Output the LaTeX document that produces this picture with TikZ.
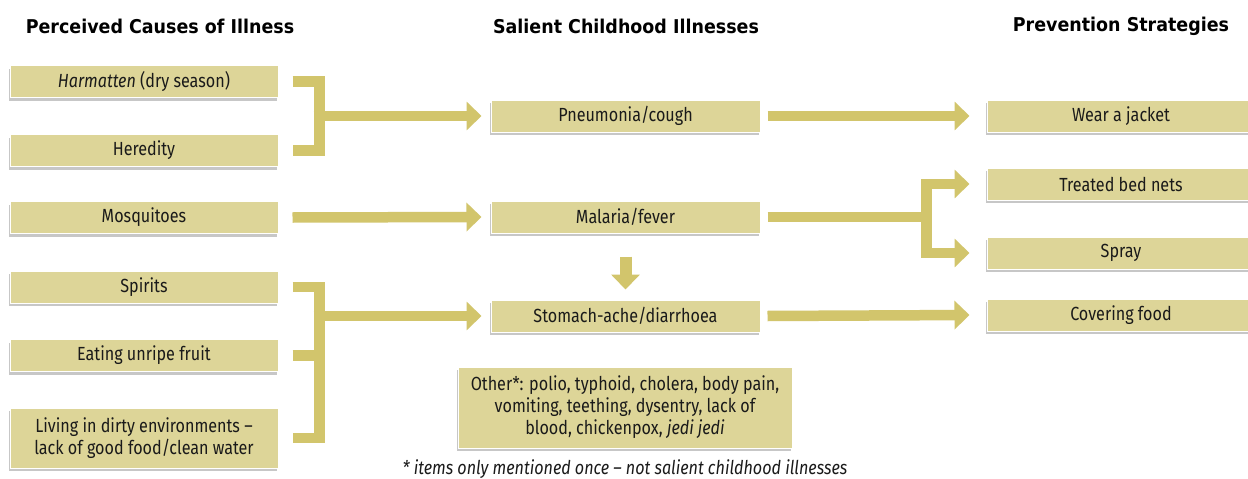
\documentclass[tikz,border=0pt]{standalone}
\usepackage{fontspec}
\setmainfont{Fira Sans}[FakeStretch=0.85]
\newfontfamily\hdfont{DejaVu Sans}[FakeStretch=0.92]
\usetikzlibrary{arrows.meta,shadows,calc}
\definecolor{boxfill}{HTML}{DDD598}
\definecolor{arrowc}{HTML}{D2C56C}
\definecolor{txt}{HTML}{1A1A1A}
\tikzset{
  box/.style={draw=white, line width=1pt, fill=boxfill, inner sep=0pt,
    minimum height=32pt, text=txt, font=\fontsize{19}{22}\selectfont,
    align=center,
    drop shadow={shadow xshift=-1pt, shadow yshift=-3pt, fill=black, opacity=0.22}},
  lbox/.style={box, minimum width=268pt},
  mbox/.style={box, minimum width=269pt},
  rbox/.style={box, minimum width=268pt},
  hdr/.style={font=\hdfont\bfseries\fontsize{19}{22}\selectfont, text=black},
  conn/.style={draw=arrowc, line width=10.5pt, line join=miter},
  arr/.style={conn, -{Triangle[length=15pt,width=28pt]}},
  darr/.style={conn, {Triangle[length=15pt,width=28pt]}-{Triangle[length=15pt,width=28pt]}},
}
\begin{document}
\begin{tikzpicture}[x=1pt,y=-1pt]
\useasboundingbox (0,0) rectangle (1248,479);
\fill[white] (0,0) rectangle (1248,479);
% headers
\node[hdr] (h1) at (160,26) {Perceived Causes of Illness};
\node[hdr] (h2) at (626,26) {Salient Childhood Illnesses};
\node[hdr] (h3) at (1121,26) {Prevention Strategies};
% left
\node[lbox] (harm) at (144,81.5) {\textit{Harmatten} (dry season)};
\node[lbox] (hered) at (144,150.5) {Heredity};
\node[lbox] (mosq) at (144,217.5) {Mosquitoes};
\node[lbox] (spir) at (144,287) {Spirits};
\node[lbox] (fruit) at (144,355.5) {Eating unripe fruit};
\node[lbox, minimum height=60pt] (dirty) at (144,438) {Living in dirty environments –\\lack of good food/clean water};
% middle
\node[mbox] (pneu) at (625.5,116) {Pneumonia/cough};
\node[mbox] (mal) at (625.5,217) {Malaria/fever};
\node[mbox] (stom) at (625.5,316) {Stomach-ache/diarrhoea};
\node[box, minimum width=334pt, minimum height=81pt] (other) at (625,407.5)
  {Other*: polio, typhoid, cholera, body pain,\\vomiting, teething, dysentry, lack of\\blood, chickenpox, \textit{jedi jedi}};
\node[font=\itshape\fontsize{19}{22}\selectfont, text=txt] (foot) at (625,469) {* items only mentioned once – not salient childhood illnesses};
% right
\node[rbox] (jack) at (1121,116) {Wear a jacket};
\node[rbox] (bed) at (1121,184) {Treated bed nets};
\node[rbox] (spray) at (1121,253) {Spray};
\node[rbox] (cover) at (1121,315) {Covering food};
% connectors: top bracket
\draw[conn] ([xshift=14pt]harm.east) -- ([xshift=41pt]harm.east) |- ([xshift=14pt]hered.east);
\draw[arr] ([xshift=35pt]harm.east |- pneu.west) -- ([xshift=-9pt]pneu.west);
% mosquitoes
\draw[arr] ([xshift=14pt]mosq.east) -- ([xshift=-9pt]mal.west);
% lower bracket
\draw[conn] ([xshift=14pt]spir.east) -- ([xshift=41pt]spir.east) |- ([xshift=14pt]dirty.east);
\draw[conn] ([xshift=14pt]fruit.east) -- ([xshift=41pt]fruit.east);
\draw[arr] ([xshift=35pt]spir.east |- stom.west) -- ([xshift=-9pt]stom.west);
% middle to right
\draw[arr] ([xshift=7pt]pneu.east) -- ([xshift=-17pt]jack.west);
\draw[conn] ([xshift=7pt]mal.east) -- ([xshift=-55pt]bed.west |- mal.east);
\draw[darr] ([xshift=-17pt]bed.west) -- ([xshift=-60pt]bed.west) -- ([xshift=-60pt]spray.west) -- ([xshift=-17pt]spray.west);
\draw[arr] ([xshift=7pt]stom.east) -- ([xshift=-17pt]cover.west);
% down arrow
\draw[arr, line width=12pt] ([yshift=-23pt]mal.south) -- ([yshift=10pt]stom.north);
\end{tikzpicture}
\end{document}
